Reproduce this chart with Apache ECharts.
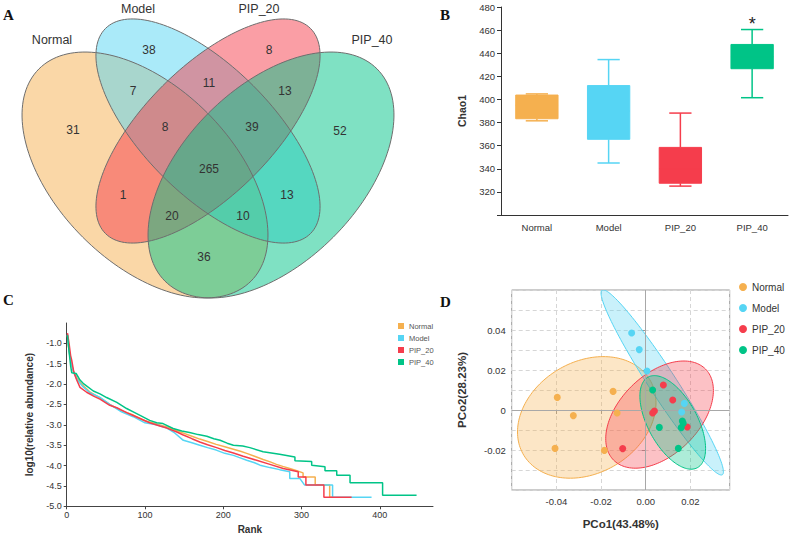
<!DOCTYPE html>
<html>
<head>
<meta charset="utf-8">
<script src="https://cdn.jsdelivr.net/npm/echarts@6/dist/echarts.min.js"></script>
<style>html,body{margin:0;padding:0;background:#fff;}#c{width:790px;height:535px;}</style>
</head>
<body>
<div id="c"></div>
<script>
// ================= DATA =================
const groups = ['Normal', 'Model', 'PIP_20', 'PIP_40'];
const groupColors = ['#F5B04F', '#56D5F4', '#F53D4C', '#00C487'];

// --- A: Venn diagram (OTU counts per region) ---
const vennCounts = [31, 38, 8, 52, 7, 11, 13, 8, 39, 265, 1, 13, 20, 10, 36];
// region label anchors (layout, px)
const vennLabelPos = [[73,130],[149,50],[269,50],[340,131],[133,91],[209,83],[285,91],[165,127],[252,127],[209,169],[123,195],[287,195],[172,216],[243,216],[204,257]];
const vennSetLabelPos = [[52,40],[138,9],[259,9],[372,40]];
// ellipse layout: cx, cy, semi-major, semi-minor, angle
const vennShapes = [[145,175,150,88,45],[208,131,145,64,45],[208,131,145,64,-45],[271,175,150,88,-45]];

// --- B: Chao1 boxplot ---
const chaoLow    = [381.5, 345.0, 325.0, 401.5];
const chaoQ1     = [383.3, 365.5, 327.5, 426.6];
const chaoMedian = [395.0, 390.0, 340.0, 437.0];
const chaoQ3     = [403.8, 412.0, 358.5, 447.6];
const chaoHigh   = [404.8, 434.5, 388.2, 460.5];
const chaoSig    = ['', '', '', '*'];

// --- C: rank-abundance curves [rank, log10(relative abundance)] ---
const rankNormal = [[1,-0.80],[2,-1.05],[4,-1.30],[6,-1.50],[9,-1.70],[13,-1.85],[20,-2.02],[30,-2.20],[42,-2.33],[55,-2.50],[70,-2.65],[85,-2.76],[100,-2.90],[115,-2.98],[128,-3.05],[140,-3.14],[150,-3.21],[160,-3.28],[170,-3.35],[180,-3.41],[191,-3.48],[202,-3.54],[213,-3.60],[222,-3.65],[230,-3.70],[240,-3.77],[251,-3.85],[260,-3.91],[268,-3.97],[276,-4.02],[285,-4.07],[293,-4.12],[302,-4.18],[302,-4.28],[317.5,-4.28],[317.5,-4.48],[336,-4.48],[336,-4.78],[339,-4.78]];
const rankModel = [[1,-0.78],[2,-1.00],[4,-1.30],[6,-1.50],[9,-1.72],[13,-1.88],[20,-2.05],[30,-2.22],[42,-2.32],[55,-2.50],[70,-2.68],[85,-2.80],[100,-2.95],[115,-3.00],[128,-3.08],[138,-3.20],[149,-3.38],[160,-3.44],[170,-3.50],[180,-3.56],[191,-3.62],[202,-3.70],[213,-3.75],[220,-3.80],[230,-3.87],[240,-3.93],[247,-3.99],[259.6,-4.05],[272,-4.10],[285,-4.15],[285,-4.32],[298,-4.32],[304,-4.48],[339.7,-4.48],[339.7,-4.78],[389.5,-4.78]];
const rankPIP20 = [[1,-0.75],[3,-1.00],[5,-1.30],[6.4,-1.41],[9,-1.70],[12.8,-1.90],[17,-2.08],[25.5,-2.20],[35,-2.30],[42.5,-2.37],[55,-2.52],[64,-2.58],[76.6,-2.70],[85,-2.77],[97.8,-2.88],[106,-2.95],[119,-3.03],[128,-3.08],[140,-3.17],[149,-3.25],[160,-3.34],[170,-3.42],[180,-3.49],[191.5,-3.56],[202,-3.63],[213,-3.69],[225.5,-3.77],[242.6,-3.87],[259.7,-3.97],[276.7,-4.07],[295.8,-4.15],[295.8,-4.28],[305.6,-4.28],[305.6,-4.48],[328.6,-4.48],[328.6,-4.78],[364,-4.78]];
const rankPIP40 = [[1,-0.80],[3,-1.20],[5,-1.55],[6.4,-1.72],[12,-1.74],[17,-1.90],[21,-1.98],[34,-2.17],[42.5,-2.24],[51,-2.33],[64,-2.45],[76.6,-2.60],[85,-2.68],[95,-2.78],[106,-2.89],[115,-2.95],[123,-2.97],[136,-3.09],[147,-3.15],[157,-3.19],[168,-3.24],[179,-3.28],[188,-3.34],[196,-3.38],[205,-3.45],[213,-3.50],[225,-3.52],[234,-3.56],[251,-3.66],[272,-3.72],[291.6,-3.79],[291.6,-3.88],[313,-3.90],[313,-3.99],[330,-4.03],[330,-4.13],[345,-4.13],[345,-4.24],[362,-4.24],[362,-4.42],[403.6,-4.42],[403.6,-4.73],[447,-4.73]];

// --- D: PCoA points [PCo1, PCo2] ---
const pcoaNormal = [[-0.0396,0.0063],[-0.0324,-0.0028],[-0.0406,-0.0192],[-0.0185,-0.0202],[-0.0146,0.0093],[-0.0128,-0.0015]];
const pcoaModel  = [[-0.0063,0.0385],[-0.0029,0.0302],[0.0006,0.0195],[0.0173,0.0033],[0.0161,-0.0010]];
const pcoaPIP20  = [[0.0079,0.0125],[0.0121,0.0050],[0.0039,-0.0005],[0.0031,-0.0015],[0.0186,-0.0085],[-0.0103,-0.0193]];
const pcoaPIP40  = [[0.0031,0.0100],[0.0061,-0.0087],[0.0164,-0.0055],[0.0168,-0.0066],[0.0159,-0.0088],[0.0146,-0.0192]];
// confidence ellipses: cx, cy, x half-extent, y half-extent, correlation
const pcoaEllipses = [[-0.0264,-0.0037,0.0310,0.0304,0.24],[0.0074,0.0138,0.0274,0.0463,-0.965],[0.0062,-0.0023,0.0241,0.0268,0.45],[0.0121,-0.0062,0.0147,0.0234,-0.56]];

// ================= CHART =================
const FONT = '"Liberation Sans", Arial, sans-serif';
const rankSeries = [rankNormal, rankModel, rankPIP20, rankPIP40];
const pcoaSeries = [pcoaNormal, pcoaModel, pcoaPIP20, pcoaPIP40];

function rgba(hex, a) {
  const n = parseInt(hex.slice(1), 16);
  return 'rgba(' + ((n >> 16) & 255) + ',' + ((n >> 8) & 255) + ',' + (n & 255) + ',' + a + ')';
}
function vennPoints(api, cx, cy, a, b, ang) {
  const r = ang * Math.PI / 180, ca = Math.cos(r), sa = Math.sin(r), pts = [];
  for (let k = 0; k < 160; k++) {
    const t = k / 160 * 2 * Math.PI, ex = a * Math.cos(t), ey = b * Math.sin(t);
    pts.push(api.coord([cx + ex * ca - ey * sa, cy + ex * sa + ey * ca]));
  }
  return pts;
}

const chart = echarts.init(document.getElementById('c'), null, {renderer: 'svg', width: 790, height: 535});

const series = [];
// Venn fills
series.push({
  type: 'custom', xAxisIndex: 0, yAxisIndex: 0, silent: true, z: 1,
  data: vennShapes,
  renderItem: function (params, api) {
    return {type: 'polygon', shape: {points: vennPoints(api, api.value(0), api.value(1), api.value(2), api.value(3), api.value(4))},
      style: {fill: rgba(groupColors[params.dataIndex], 0.5), stroke: 'none'}};
  }
});
// Venn outlines
series.push({
  type: 'custom', xAxisIndex: 0, yAxisIndex: 0, silent: true, z: 2,
  data: vennShapes,
  renderItem: function (params, api) {
    return {type: 'polygon', shape: {points: vennPoints(api, api.value(0), api.value(1), api.value(2), api.value(3), api.value(4))},
      style: {fill: 'none', stroke: '#6e6e6e', lineWidth: 1}};
  }
});
// Venn counts
series.push({
  type: 'custom', xAxisIndex: 0, yAxisIndex: 0, silent: true, z: 3,
  data: vennCounts.map((c, i) => [vennLabelPos[i][0], vennLabelPos[i][1], c]),
  renderItem: function (params, api) {
    const p = api.coord([api.value(0), api.value(1)]);
    return {type: 'text', x: p[0], y: p[1], style: {text: String(api.value(2)), fill: '#333', font: '12px ' + FONT, align: 'center', verticalAlign: 'middle'}};
  }
});
// Venn set names
series.push({
  type: 'custom', xAxisIndex: 0, yAxisIndex: 0, silent: true, z: 3,
  data: groups.map((g, i) => [vennSetLabelPos[i][0], vennSetLabelPos[i][1], i]),
  renderItem: function (params, api) {
    const p = api.coord([api.value(0), api.value(1)]);
    return {type: 'text', x: p[0], y: p[1], style: {text: groups[api.value(2)], fill: '#333', font: '12.5px ' + FONT, align: 'center', verticalAlign: 'middle'}};
  }
});
// B boxplot
series.push({
  type: 'custom', name: 'Chao1', xAxisIndex: 1, yAxisIndex: 1, silent: true, z: 3,
  encode: {x: 0, y: [1, 2, 3, 4, 5]},
  data: groups.map((g, i) => [i, chaoLow[i], chaoQ1[i], chaoMedian[i], chaoQ3[i], chaoHigh[i]]),
  renderItem: function (params, api) {
    const i = params.dataIndex, c = groupColors[i];
    const pl = api.coord([api.value(0), api.value(1)]);
    const p1 = api.coord([api.value(0), api.value(2)]);
    const pm = api.coord([api.value(0), api.value(3)]);
    const p3 = api.coord([api.value(0), api.value(4)]);
    const ph = api.coord([api.value(0), api.value(5)]);
    const bw = api.size([1, 0])[0], boxW = bw * 0.59, capW = bw * 0.31, x = p1[0];
    const ls = {stroke: c, lineWidth: 1.5};
    const children = [
      {type: 'line', shape: {x1: x, y1: ph[1], x2: x, y2: p3[1]}, style: ls},
      {type: 'line', shape: {x1: x, y1: p1[1], x2: x, y2: pl[1]}, style: ls},
      {type: 'line', shape: {x1: x - capW / 2, y1: ph[1], x2: x + capW / 2, y2: ph[1]}, style: ls},
      {type: 'line', shape: {x1: x - capW / 2, y1: pl[1], x2: x + capW / 2, y2: pl[1]}, style: ls},
      {type: 'rect', shape: {x: x - boxW / 2, y: p3[1], width: boxW, height: p1[1] - p3[1]}, style: {fill: c, stroke: c, lineWidth: 1}},
      {type: 'line', shape: {x1: x - boxW / 2, y1: pm[1], x2: x + boxW / 2, y2: pm[1]}, style: {stroke: c, lineWidth: 1}}
    ];
    if (chaoSig[i]) {
      children.push({type: 'text', x: x, y: ph[1] - 15, style: {text: chaoSig[i], fill: '#222', font: '18px ' + FONT, align: 'center', verticalAlign: 'top'}});
    }
    return {type: 'group', children: children};
  }
});
// C rank-abundance lines
groups.forEach((g, i) => {
  series.push({
    type: 'line', name: g, xAxisIndex: 2, yAxisIndex: 2, data: rankSeries[i], showSymbol: false, symbol: 'none',
    lineStyle: {color: groupColors[i], width: 1.5}, itemStyle: {color: groupColors[i]}, z: 3 + i
  });
});
// D zero lines
series.push({
  type: 'scatter', xAxisIndex: 3, yAxisIndex: 3, data: [], silent: true, z: 1,
  markLine: {silent: true, symbol: ['none', 'none'], label: {show: false}, animation: false,
    lineStyle: {color: '#a8a8a8', type: 'solid', width: 1}, data: [{xAxis: 0}, {yAxis: 0}]}
});
// D ellipses
series.push({
  type: 'custom', xAxisIndex: 3, yAxisIndex: 3, silent: true, z: 2, clip: true,
  data: pcoaEllipses,
  renderItem: function (params, api) {
    const cx = api.value(0), cy = api.value(1), rx = api.value(2), ry = api.value(3), rho = api.value(4);
    const s = Math.sqrt(1 - rho * rho), pts = [];
    for (let k = 0; k < 160; k++) {
      const t = k / 160 * 2 * Math.PI;
      pts.push(api.coord([cx + rx * Math.cos(t), cy + ry * (rho * Math.cos(t) + s * Math.sin(t))]));
    }
    const c = groupColors[params.dataIndex];
    return {type: 'polygon', shape: {points: pts}, style: {fill: rgba(c, 0.32), stroke: c, lineWidth: 1}};
  }
});
// D points
groups.forEach((g, i) => {
  series.push({
    type: 'scatter', name: g, xAxisIndex: 3, yAxisIndex: 3, data: pcoaSeries[i], symbolSize: 7,
    itemStyle: {color: groupColors[i], opacity: 1}, z: 5
  });
});

const axisText = {color: '#333', fontFamily: FONT};
const option = {
  animation: false,
  backgroundColor: '#fff',
  textStyle: {fontFamily: FONT},
  title: [
    {text: 'A', left: 3, top: 7},
    {text: 'B', left: 440, top: 7},
    {text: 'C', left: 3, top: 292},
    {text: 'D', left: 440, top: 294}
  ].map(t => Object.assign(t, {padding: 0, textStyle: {fontFamily: '"Liberation Serif", "Times New Roman", serif', fontWeight: 'bold', fontSize: 15, color: '#111'}})),
  legend: [
    {data: groups, icon: 'rect', orient: 'vertical', left: 398, top: 322, padding: 0, itemWidth: 6, itemHeight: 6, itemGap: 4,
      textStyle: {fontSize: 7.5, color: '#555', fontFamily: FONT}, selectedMode: false},
    {data: groups, icon: 'circle', orient: 'vertical', left: 739, top: 282, padding: 0, itemWidth: 8, itemHeight: 8, itemGap: 11,
      textStyle: {fontSize: 10, color: '#333', fontFamily: FONT}, selectedMode: false}
  ],
  grid: [
    {left: 0, top: 0, width: 416, height: 300, outerBoundsMode: 'none'},
    {left: 501, top: 7, width: 287, height: 208, outerBoundsMode: 'none'},
    {left: 66.7, top: 323, width: 366.3, height: 183.3, outerBoundsMode: 'none'},
    {left: 511.7, top: 290, width: 218, height: 200, show: true, borderColor: '#999', borderWidth: 1, backgroundColor: 'transparent', outerBoundsMode: 'none'}
  ],
  xAxis: [
    {gridIndex: 0, type: 'value', min: 0, max: 416, show: false},
    {gridIndex: 1, type: 'category', data: groups, boundaryGap: true,
      axisLine: {lineStyle: {color: '#333'}}, axisTick: {alignWithLabel: true, length: 4, lineStyle: {color: '#333'}},
      axisLabel: Object.assign({fontSize: 9.5, margin: 7}, axisText)},
    {gridIndex: 2, type: 'value', min: 0, max: 468, interval: 100, name: 'Rank', nameLocation: 'middle', nameGap: 18,
      nameTextStyle: {fontWeight: 'bold', fontSize: 10, color: '#333'},
      axisLine: {lineStyle: {color: '#444'}}, axisTick: {length: 3, lineStyle: {color: '#444'}}, splitLine: {show: false},
      axisLabel: Object.assign({fontSize: 9, margin: 4, showMaxLabel: false, formatter: v => (v % 100 === 0 ? String(v) : '')}, axisText)},
    {gridIndex: 3, type: 'value', min: -0.06, max: 0.0376, interval: 0.02, name: 'PCo1(43.48%)', nameLocation: 'middle', nameGap: 28,
      nameTextStyle: {fontWeight: 'bold', fontSize: 11.5, color: '#333'},
      axisLine: {show: false}, axisTick: {show: true, length: 4, lineStyle: {color: '#999'}},
      splitLine: {show: true, lineStyle: {color: '#d6d6d6', type: [4, 3]}},
      axisLabel: Object.assign({fontSize: 9.5, margin: 6, showMinLabel: false, showMaxLabel: false, formatter: v => v.toFixed(2)}, axisText)}
  ],
  yAxis: [
    {gridIndex: 0, type: 'value', min: 0, max: 300, inverse: true, show: false},
    {gridIndex: 1, type: 'value', min: 300, max: 480, interval: 20, name: 'Chao1', nameLocation: 'middle', nameGap: 34, nameRotate: 90,
      nameTextStyle: {fontWeight: 'bold', fontSize: 10.5, color: '#333'},
      axisLine: {show: true, lineStyle: {color: '#333'}}, axisTick: {show: true, length: 4, lineStyle: {color: '#333'}}, splitLine: {show: false},
      axisLabel: Object.assign({fontSize: 9.5, margin: 6, formatter: v => (v === 300 ? '' : String(v))}, axisText)},
    {gridIndex: 2, type: 'value', min: -5, max: -0.5, interval: 0.5, name: 'log10(relative abundance)', nameLocation: 'middle', nameGap: 32, nameRotate: 90,
      nameTextStyle: {fontWeight: 'bold', fontSize: 10, color: '#333'},
      axisLine: {show: true, lineStyle: {color: '#444'}}, axisTick: {show: true, length: 3, lineStyle: {color: '#444'}}, splitLine: {show: false},
      axisLabel: Object.assign({fontSize: 9, margin: 5, showMaxLabel: false, formatter: v => v.toFixed(1)}, axisText)},
    {gridIndex: 3, type: 'value', min: -0.04, max: 0.06, interval: 0.02, name: 'PCo2(28.23%)', nameLocation: 'middle', nameGap: 44, nameRotate: 90,
      nameTextStyle: {fontWeight: 'bold', fontSize: 11.5, color: '#333'},
      axisLine: {show: false}, axisTick: {show: true, length: 4, lineStyle: {color: '#999'}},
      splitLine: {show: true, lineStyle: {color: '#d6d6d6', type: [4, 3]}},
      minorTick: {show: false, splitNumber: 2},
      minorSplitLine: {show: true, lineStyle: {color: '#d6d6d6', type: [4, 3]}},
      axisLabel: Object.assign({fontSize: 9.5, margin: 6, showMinLabel: false, showMaxLabel: false,
        formatter: v => (Math.abs(v) < 1e-9 ? '0' : v.toFixed(2))}, axisText)}
  ],
  series: series
};
chart.setOption(option);
</script>
</body>
</html>
